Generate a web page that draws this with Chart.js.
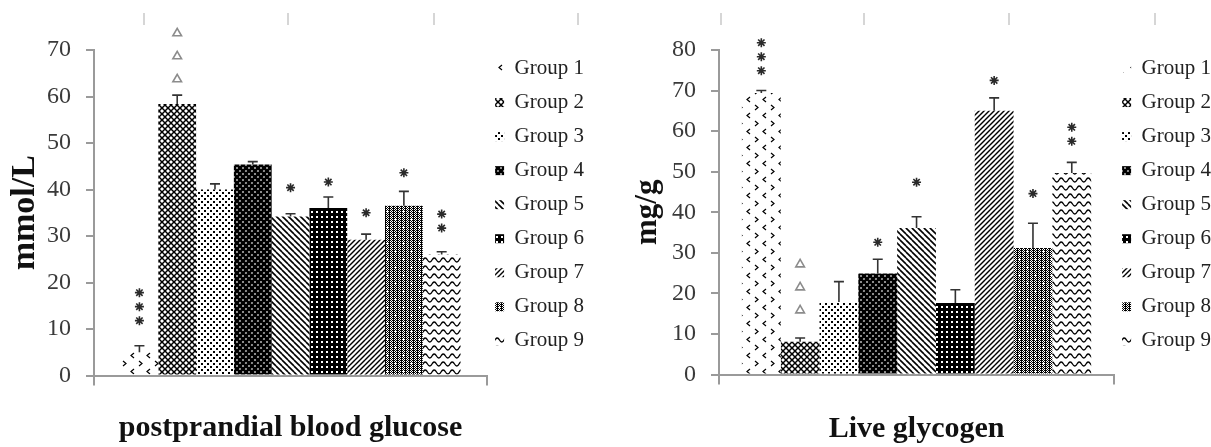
<!DOCTYPE html>
<html>
<head>
<meta charset="utf-8">
<script src="https://cdn.jsdelivr.net/npm/chart.js@4.4.1/dist/chart.umd.min.js"></script>
<style>
  html, body { margin: 0; padding: 0; background: #fff; }
  #wrap { position: relative; width: 1211px; height: 447px; overflow: hidden; }
  .box { position: absolute; top: 0; height: 447px; }
  #left { left: 0; width: 600px; }
  #right { left: 600px; width: 621px; }
  .mark { position: absolute; top: 13px; width: 2px; height: 12px; background: #d6d6d6; }
</style>
</head>
<body>
<div id="wrap">
  <div class="box" id="left"><canvas id="glucose"></canvas></div>
  <div class="box" id="right"><canvas id="glycogen"></canvas></div>
  <div class="mark" style="left:143px"></div>
  <div class="mark" style="left:287px"></div>
  <div class="mark" style="left:433px"></div>
  <div class="mark" style="left:577px"></div>
  <div class="mark" style="left:720px"></div>
  <div class="mark" style="left:863px"></div>
  <div class="mark" style="left:1008px"></div>
  <div class="mark" style="left:1154px"></div>
</div>
<script>
const groups = ["Group 1", "Group 2", "Group 3", "Group 4", "Group 5", "Group 6", "Group 7", "Group 8", "Group 9"];

// postprandial blood glucose (mmol/L)
const glucoseMean = [5.0, 58.4, 40.0, 45.4, 34.2, 36.0, 29.2, 36.5, 26.0];
const glucoseErr  = [1.4, 1.9, 1.2, 0.6, 0.6, 2.4, 1.2, 3.1, 0.6];
const glucoseSig  = ["***", "△△△", "", "", "*", "*", "*", "*", "**"];
const glucoseSigY = [11.8, 63.7, null, null, 40.4, 41.6, 35.0, 43.6, 31.7];

// live glycogen (mg/g)
const glycogenMean = [69.4, 8.1, 17.9, 24.9, 36.1, 17.6, 65.0, 31.2, 49.7];
const glycogenErr  = [0.6, 0.9, 5.0, 3.5, 2.8, 3.3, 3.2, 6.1, 2.6];
const glycogenSig  = ["***", "△△△", "", "*", "*", "", "*", "*", "**"];
const glycogenSigY = [74.9, 15.8, null, 32.6, 47.4, null, 72.5, 44.6, 57.5];

Chart.defaults.font.family = "'Liberation Serif', 'Times New Roman', serif";

function tile(ctx, w, h, draw){
  const c = document.createElement("canvas");
  c.width = w; c.height = h;
  const g = c.getContext("2d");
  g.fillStyle = "#fff";
  g.fillRect(0, 0, w, h);
  for (const dx of [-w, 0, w]) for (const dy of [-h, 0, h]) {
    g.save();
    g.translate(dx, dy);
    g.fillStyle = "#000"; g.strokeStyle = "#000";
    draw(g);
    g.restore();
  }
  return ctx.createPattern(c, "repeat");
}

function makePatterns(ctx){
  return [
    tile(ctx, 16, 16, g => { g.lineWidth = 1.2; g.beginPath(); g.moveTo(6, 1); g.lineTo(3, 3.5); g.lineTo(6, 6); g.moveTo(11, 9); g.lineTo(14, 11.5); g.lineTo(11, 14); g.stroke(); }),
    tile(ctx, 6, 6, g => { g.lineWidth = 1.5; g.beginPath(); g.moveTo(0, 0); g.lineTo(6, 6); g.moveTo(6, 0); g.lineTo(0, 6); g.stroke(); }),
    tile(ctx, 6, 6, g => { g.fillRect(0, 0, 2, 2); g.fillRect(3, 3, 2, 2); }),
    tile(ctx, 6, 6, g => { g.lineWidth = 2.8; g.beginPath(); g.moveTo(0, 0); g.lineTo(6, 6); g.moveTo(6, 0); g.lineTo(0, 6); g.stroke(); }),
    tile(ctx, 6, 6, g => { g.lineWidth = 1.6; g.beginPath(); g.moveTo(0, 0); g.lineTo(6, 6); g.stroke(); }),
    tile(ctx, 5, 5, g => { g.fillRect(0, 0, 5, 5); g.fillStyle = "#fff"; g.fillRect(1, 1, 2, 2); }),
    tile(ctx, 5, 5, g => { g.lineWidth = 1.4; g.beginPath(); g.moveTo(0, 5); g.lineTo(5, 0); g.stroke(); }),
    tile(ctx, 16, 16, g => {
      for (let x = 0; x < 16; x++) for (let y = 0; y < 16; y++) if ((x + y) % 2 === 0 || (x % 4 === 1 && y % 2 === 0)) g.fillRect(x, y, 1, 1);
      g.fillStyle = "#fff";
      g.fillRect(2, 3, 3, 1); g.fillRect(3, 2, 1, 3);
      g.fillRect(10, 11, 3, 1); g.fillRect(11, 10, 1, 3);
    }),
    tile(ctx, 9, 8, g => { g.lineWidth = 1.3; g.beginPath(); g.moveTo(0, 4); g.quadraticCurveTo(2.25, 0, 4.5, 4); g.quadraticCurveTo(6.75, 8, 9, 4); g.stroke(); })
  ];
}

// upper error whisker + significance marks above each bar
const errorMarks = {
  id: "errorMarks",
  afterDatasetsDraw(chart){
    const ctx = chart.ctx, y = chart.scales.y;
    ctx.save();
    chart.data.datasets.forEach((ds, i) => {
      const bar = chart.getDatasetMeta(i).data[0];
      const top = y.getPixelForValue(ds.data[0] + ds.err);
      ctx.strokeStyle = "#333";
      ctx.lineWidth = 1.6;
      ctx.beginPath();
      ctx.moveTo(bar.x, bar.y); ctx.lineTo(bar.x, top);
      ctx.moveTo(bar.x - 5, top); ctx.lineTo(bar.x + 5, top);
      ctx.stroke();
      if (!ds.sig) return;
      let py = y.getPixelForValue(ds.sigY);
      for (const ch of ds.sig) {
        const tri = ch === "△";
        ctx.strokeStyle = tri ? "#8c8c8c" : "#2a2a2a";
        ctx.fillStyle = "#fff";
        Chart.helpers.drawPoint(ctx, {pointStyle: tri ? "triangle" : "star", radius: tri ? 5 : 4.5, rotation: 0, borderWidth: tri ? 1.5 : 2.3}, bar.x, py);
        py -= tri ? 23 : 14;
      }
    });
    ctx.restore();
  }
};

function build(id, means, errs, sig, sigY, opt){
  const canvas = document.getElementById(id);
  const pats = makePatterns(canvas.getContext("2d"));
  return new Chart(canvas, {
    type: "bar",
    data: {
      labels: [""],
      datasets: groups.map((g, i) => ({
        label: g, data: [means[i]], err: errs[i], sig: sig[i], sigY: sigY[i],
        backgroundColor: pats[i], borderWidth: 0
      }))
    },
    options: {
      responsive: true,
      maintainAspectRatio: false,
      animation: false,
      events: [],
      layout: {padding: opt.pad},
      datasets: {bar: {barPercentage: 1, categoryPercentage: opt.cat}},
      plugins: {
        tooltip: {enabled: false},
        legend: {
          position: "right", align: "start",
          labels: {
            boxWidth: 9, boxHeight: 9, padding: 8, color: "#222",
            font: {size: 21, lineHeight: 1.24},
            generateLabels: c => Chart.defaults.plugins.legend.labels.generateLabels(c)
              .map(l => Object.assign(l, {text: [l.text], lineWidth: 0}))
          }
        }
      },
      scales: {
        x: {
          grid: {offset: true, drawOnChartArea: false, tickLength: 10, color: "#9a9a9a", lineWidth: 2},
          border: {color: "#9a9a9a", width: 2},
          ticks: {display: false},
          title: {display: true, text: opt.xTitle, color: "#111", font: {size: 30, weight: "bold"}, padding: {top: 0, bottom: opt.xPad}},
          afterFit: s => { s.height = opt.xH; }
        },
        y: {
          min: 0, max: opt.max,
          ticks: {stepSize: 10, padding: 15, color: "#3a3a3a", font: {size: 24}},
          grid: {drawOnChartArea: false, tickLength: 8, color: "#9a9a9a", lineWidth: 2},
          border: {color: "#9a9a9a", width: 2},
          title: {display: true, text: opt.yTitle, color: "#111", font: {size: opt.yFont, weight: "bold"}, padding: {top: opt.yPad, bottom: 0}},
          afterFit: s => { s.width = opt.yW; }
        }
      }
    },
    plugins: [errorMarks]
  });
}

build("glucose", glucoseMean, glucoseErr, glucoseSig, glucoseSigY, {
  pad: {top: 50, right: 6, bottom: 0, left: 0}, cat: 0.865, max: 70,
  xTitle: "postprandial blood glucose", xH: 71.5, xPad: 1,
  yTitle: "mmol/L", yFont: 34, yPad: 5, yW: 94
});
build("glycogen", glycogenMean, glycogenErr, glycogenSig, glycogenSigY, {
  pad: {top: 50, right: 0, bottom: 0, left: 20}, cat: 0.884, max: 80,
  xTitle: "Live glycogen", xH: 72.5, xPad: 0,
  yTitle: "mg/g", yFont: 31, yPad: 9, yW: 99
});
</script>
</body>
</html>
